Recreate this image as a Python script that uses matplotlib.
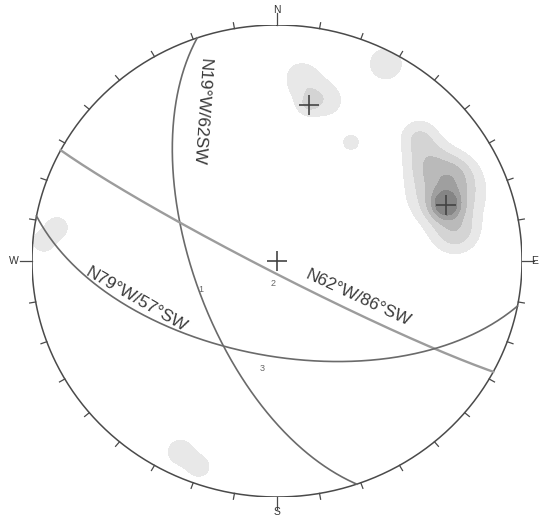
import numpy as np
import matplotlib
matplotlib.use("Agg")
import matplotlib.pyplot as plt

plt.rcParams["font.family"] = ["Liberation Sans", "DejaVu Sans"]

# Planes (quadrant notation), strike azimuth and dip (all dipping SW)
plane_labels = ["N19°W/62SW", "N62°W/86°SW", "N79°W/57°SW"]
plane_strike = [341, 298, 281]
plane_dip = [62, 86, 57]

# Mean orientations marked with crosses (trend, plunge)
mean_trend = [11, 71, 180]
mean_plunge = [33, 28, 90]

# Pole concentrations used for the density shading (trend, plunge, weight, spread)
conc_trend = [71, 67, 56, 48, 80, 63,
              11, 7, 17, 11,
              28, 31,
              275, 279, 206, 200]
conc_plunge = [28, 26, 26, 23, 27, 20,
               28, 22, 30, 33,
               6, 41,
               5, 10, 11, 8]
conc_weight = [0.85, 0.6, 0.32, 0.25, 0.35, 0.2,
               0.16, 0.14, 0.14, 0.16,
               0.22, 0.2,
               0.2, 0.2, 0.18, 0.16]
conc_spread = [0.04, 0.085, 0.06, 0.05, 0.06, 0.05,
               0.06, 0.05, 0.05, 0.03,
               0.05, 0.025,
               0.035, 0.035, 0.045, 0.04]

cardinals = ["N", "E", "S", "W"]


def project(trend, plunge):
    """Lambert equal-area (Schmidt) projection, lower hemisphere, unit radius."""
    t = np.radians(trend)
    p = np.radians(plunge)
    r = np.sqrt(2) * np.sin((np.pi / 2 - p) / 2)
    return r * np.sin(t), r * np.cos(t)


def great_circle(strike, dip, n=361):
    dipdir = np.radians(strike - 90)
    s = np.radians(strike)
    d = np.radians(dip)
    a = np.linspace(0, np.pi, n)
    sv = np.array([np.sin(s), np.cos(s), 0.0])
    dv = np.array([np.cos(d) * np.sin(dipdir), np.cos(d) * np.cos(dipdir), np.sin(d)])
    v = np.outer(np.cos(a), sv) + np.outer(np.sin(a), dv)
    plunge = np.degrees(np.arcsin(np.clip(v[:, 2], -1, 1)))
    trend = np.degrees(np.arctan2(v[:, 0], v[:, 1]))
    return project(trend, plunge)


fig = plt.figure(figsize=(5.4, 5.25), dpi=100)
ax = fig.add_axes([32 / 540, 28 / 525, 490 / 540, 472 / 525])
ax.set_xlim(-1, 1)
ax.set_ylim(-1, 1)
ax.set_aspect("auto")
ax.axis("off")

# density shading
g = np.linspace(-1, 1, 500)
X, Y = np.meshgrid(g, g)
Z = np.zeros_like(X)
cx, cy = project(np.array(conc_trend), np.array(conc_plunge))
for x0, y0, w, sg in zip(cx, cy, conc_weight, conc_spread):
    Z += w * np.exp(-((X - x0) ** 2 + (Y - y0) ** 2) / (2 * sg ** 2))
Z = np.ma.masked_where(X ** 2 + Y ** 2 > 1, Z)
levels = [0.1, 0.25, 0.45, 0.7, 0.95, 5]
shades = ["#e8e8e8", "#d4d4d4", "#bababa", "#9f9f9f", "#858585"]
ax.contourf(X, Y, Z, levels=levels, colors=shades, zorder=1)

# primitive circle with 10-degree ticks
th = np.linspace(0, 2 * np.pi, 721)
ax.plot(np.sin(th), np.cos(th), color="#4a4a4a", lw=1.1, zorder=3)
for az in range(0, 360, 10):
    a = np.radians(az)
    L = 1.05 if az % 90 == 0 else 1.025
    ax.plot([np.sin(a), L * np.sin(a)], [np.cos(a), L * np.cos(a)],
            color="#4a4a4a", lw=0.9, zorder=3, clip_on=False)
card_r = [1.065, 1.05, 1.065, 1.075]
for lab, az, rr in zip(cardinals, [0, 90, 180, 270], card_r):
    a = np.radians(az)
    ax.text(rr * np.sin(a), rr * np.cos(a), lab, ha="center", va="center",
            fontsize=7.5, color="#333333", clip_on=False)

# great circles
gc_colors = ["#6a6a6a", "#9c9c9c", "#6a6a6a"]
gc_widths = [1.2, 1.7, 1.2]
for st, dp, c, w in zip(plane_strike, plane_dip, gc_colors, gc_widths):
    gx, gy = great_circle(st, dp)
    ax.plot(gx, gy, color=c, lw=w, zorder=4)

# plane labels
label_pos = [(-0.31, 0.63), (0.33, -0.155), (-0.575, -0.165)]
label_rot = [-94, -25, -30]
for lab, (lx, ly), rot in zip(plane_labels, label_pos, label_rot):
    ax.text(lx, ly, lab, rotation=rot, ha="center", va="center",
            fontsize=12.5, color="#3a3a3a", zorder=6, rotation_mode="anchor")

# mean orientations
mx, my = project(np.array(mean_trend), np.array(mean_plunge))
ax.plot(mx, my, linestyle="none", marker="+", markersize=14, mew=1.2,
        color="#444444", zorder=5)

# small reference numbers along the planes
ref_text = ["1", "2", "3"]
ref_pos = [(-0.31, -0.12), (-0.015, -0.095), (-0.06, -0.455)]
for t, (tx, ty) in zip(ref_text, ref_pos):
    ax.text(tx, ty, t, fontsize=6.5, color="#666666", ha="center", va="center", zorder=6)

fig.savefig("out.png", dpi=100, facecolor="white")
